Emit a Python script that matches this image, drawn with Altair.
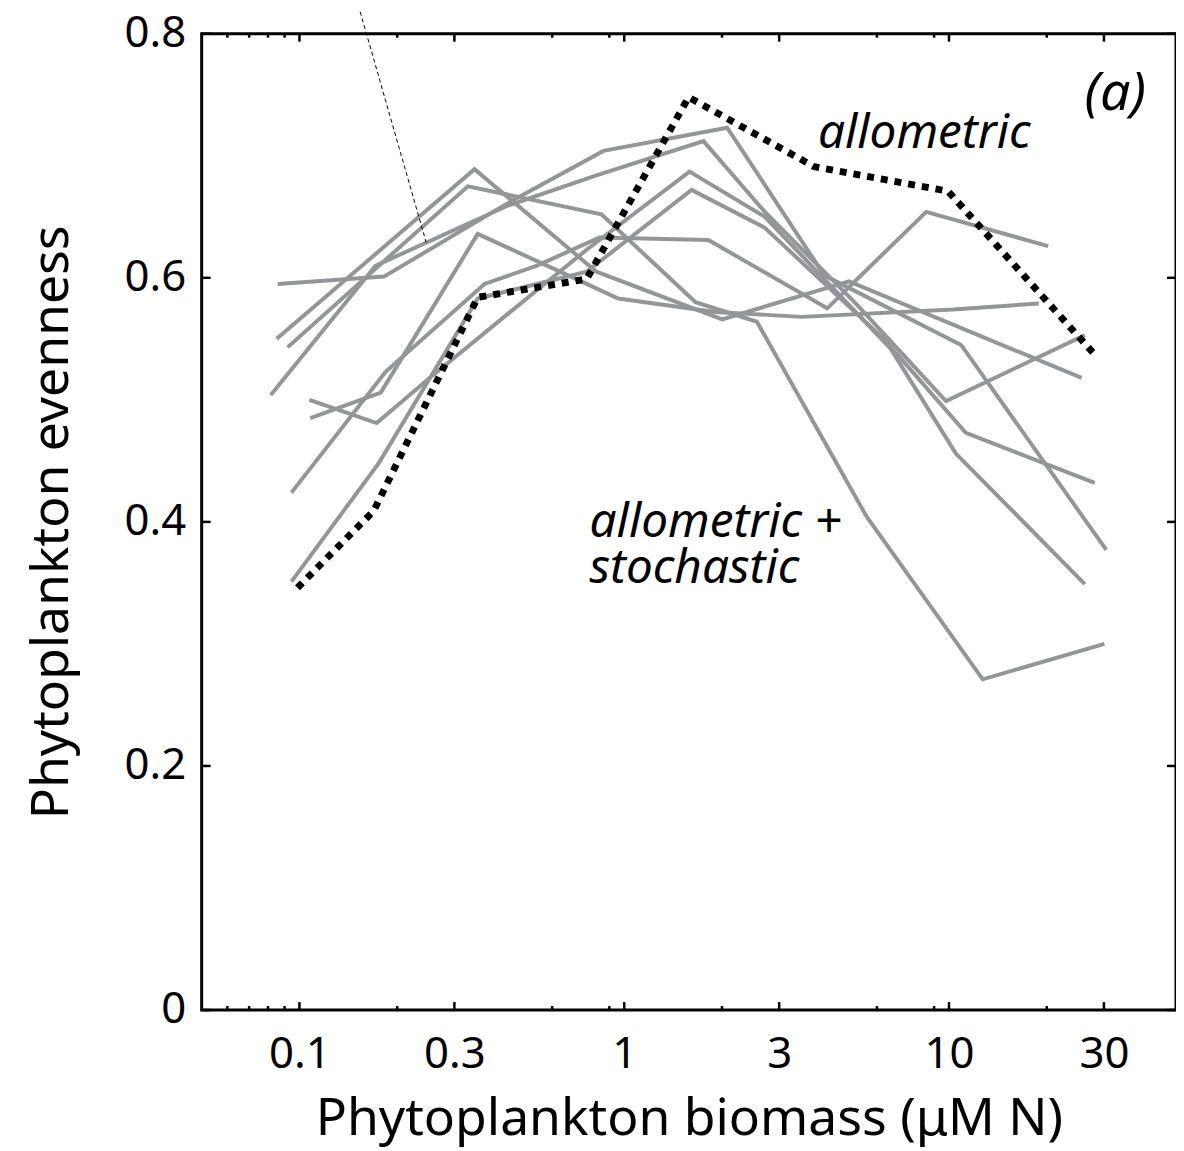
import altair as alt
import pandas as pd

# ---- data: phytoplankton biomass (uM N) vs evenness ----
run1_x = [0.0857, 0.182, 0.437, 0.863, 2.075, 4.13, 10.9, 30.5]
run1_y = [0.595, 0.601, 0.661, 0.704, 0.723, 0.602, 0.545, 0.377]
run2_x = [0.0851, 0.346, 0.821, 2.004, 4.921, 25.6]
run2_y = [0.550, 0.689, 0.605, 0.566, 0.597, 0.518]
run3_x = [0.0919, 0.330, 0.851, 1.658, 2.562, 5.585, 12.7, 30.1]
run3_y = [0.543, 0.675, 0.652, 0.580, 0.564, 0.404, 0.271, 0.300]
run4_x = [0.0816, 0.1717, 0.437, 0.821, 1.754, 2.710, 5.205, 9.79, 26.2]
run4_y = [0.504, 0.610, 0.659, 0.684, 0.712, 0.654, 0.578, 0.499, 0.553]
run5_x = [0.1073, 0.1729, 0.2543, 0.528, 0.766, 1.589, 2.710, 6.61, 10.5, 26.2]
run5_y = [0.500, 0.481, 0.519, 0.588, 0.623, 0.687, 0.650, 0.542, 0.456, 0.349]
run6_x = [0.108, 0.178, 0.354, 0.766, 0.959, 1.908, 3.514, 10.29, 18.9]
run6_y = [0.485, 0.506, 0.636, 0.595, 0.583, 0.572, 0.568, 0.574, 0.579]
run7_x = [0.0945, 0.1842, 0.3716, 0.539, 0.839, 1.816, 4.217, 8.51, 20.2]
run7_y = [0.424, 0.523, 0.595, 0.610, 0.633, 0.631, 0.575, 0.654, 0.626]
run8_x = [0.0945, 0.1753, 0.354, 0.766, 1.612, 2.710, 6.293, 11.27, 28.1]
run8_y = [0.351, 0.448, 0.583, 0.605, 0.672, 0.641, 0.550, 0.473, 0.432]

allo_x = [0.0986, 0.1693, 0.354, 0.766, 1.578, 3.849, 9.93, 27.9]
allo_y = [0.346, 0.409, 0.584, 0.599, 0.748, 0.691, 0.671, 0.538]

x_major = [0.1, 0.3, 1, 3, 10, 30]
x_minor = [0.06, 0.07, 0.08, 0.09, 0.2, 0.6, 0.9, 2, 6, 9, 20]
y_major = [0, 0.2, 0.4, 0.6, 0.8]

label_text = ["allometric", "allometric +\nstochastic"]
label_x = [8.39, 0.782]
label_y = [0.7064, 0.3874]
label_align = ["center", "left"]

panel_text = ["(a)"]
panel_x = [32.5]
panel_y = [0.7373]

pointer_x = [0.1538, 0.2456]
pointer_y = [0.818, 0.629]

# ---- layout constants ----
W, H = 981, 983
GRAY = "#939598"
FONT = "Noto Sans"

runs = [(run1_x, run1_y), (run2_x, run2_y), (run3_x, run3_y), (run4_x, run4_y),
        (run5_x, run5_y), (run6_x, run6_y), (run7_x, run7_y), (run8_x, run8_y)]
rows = []
for i, (xs_, ys_) in enumerate(runs):
    for j, (a, b) in enumerate(zip(xs_, ys_)):
        rows.append({"run": f"run{i+1}", "i": j, "biomass": a, "evenness": b})
stoch = pd.DataFrame(rows)
allo = pd.DataFrame({"biomass": allo_x, "evenness": allo_y, "i": range(len(allo_x))})

xs = alt.Scale(type="log", domain=[0.05, 50], nice=False)
ys = alt.Scale(domain=[0, 0.8], nice=False, zero=False)

XT = "Phytoplankton biomass (μM N)"
YT = "Phytoplankton evenness"
x_axis = alt.Axis(values=x_major, format="~g", domain=False, ticks=False, grid=False,
                  labelFont=FONT, labelFontSize=44, labelPadding=23, labelColor="black",
                  title=XT, titleFont=FONT, titleFontSize=52,
                  titleFontWeight="normal", titleColor="black", titlePadding=17)
y_axis = alt.Axis(values=y_major, format="~g", domain=False, ticks=False, grid=False,
                  labelFont=FONT, labelFontSize=44, labelPadding=16, labelColor="black",
                  title=YT, titleFont=FONT, titleFontSize=52,
                  titleFontWeight="normal", titleColor="black", titlePadding=46)

X = lambda f="biomass": alt.X(f"{f}:Q", scale=xs, axis=x_axis, title=XT)
Y = lambda f="evenness": alt.Y(f"{f}:Q", scale=ys, axis=y_axis, title=YT)

gray_lines = alt.Chart(stoch).mark_line(color=GRAY, strokeWidth=4, strokeJoin="miter").encode(
    x=X(), y=Y(), detail="run:N", order="i:Q",
)

allo_line = alt.Chart(allo).mark_line(color="black", strokeWidth=7, strokeDash=[7, 7]).encode(
    x=X(), y=Y(), order="i:Q",
)

xmaj = pd.DataFrame({"biomass": x_major})
xmin = pd.DataFrame({"biomass": x_minor})
ymaj = pd.DataFrame({"evenness": y_major})

def xticks(df, y0, y1):
    return alt.Chart(df).mark_rule(color="black", strokeWidth=2.5).encode(
        x=X(), y=alt.value(y0), y2=alt.value(y1))

def yticks(x0, x1):
    return alt.Chart(ymaj).mark_rule(color="black", strokeWidth=2.5).encode(
        y=Y(), x=alt.value(x0), x2=alt.value(x1))

tick_layers = [
    xticks(xmaj, H, H - 8), xticks(xmin, H, H - 4),
    xticks(xmaj, 0, 8), xticks(xmin, 0, 4),
    yticks(0, 9), yticks(W, W - 9),
]

pointer = alt.Chart(pd.DataFrame({"biomass": [pointer_x[0]], "b2": [pointer_x[1]],
                                  "evenness": [pointer_y[0]], "e2": [pointer_y[1]]})).mark_rule(
    color="black", strokeWidth=1, strokeDash=[4, 3]).encode(
    x=X(), x2="b2:Q", y=Y(), y2="e2:Q")

labels_df = pd.DataFrame({"text": label_text, "biomass": label_x, "evenness": label_y,
                          "align": label_align})
text_layers = []
for al in ["center", "left"]:
    text_layers.append(
        alt.Chart(labels_df[labels_df["align"] == al]).mark_text(
            font=FONT, fontSize=48, fontStyle="italic", align=al, baseline="alphabetic",
            lineBreak="\n", lineHeight=46, color="black").encode(
            x=X(), y=Y(), text="text:N"))

panel = alt.Chart(pd.DataFrame({"text": panel_text, "biomass": panel_x, "evenness": panel_y})).mark_text(
    font=FONT, fontSize=54, fontStyle="italic", align="center", baseline="alphabetic",
    color="black").encode(x=X(), y=Y(), text="text:N")

chart = alt.layer(gray_lines, allo_line, *tick_layers, pointer, *text_layers, panel).properties(
    width=W, height=H,
    autosize=alt.AutoSizeParams(type="none"),
    padding={"left": 195, "top": 22, "right": 0, "bottom": 136},
).configure_view(stroke="black", strokeWidth=3)

chart.save("out.html", embed_options={"renderer": "svg", "actions": False})
